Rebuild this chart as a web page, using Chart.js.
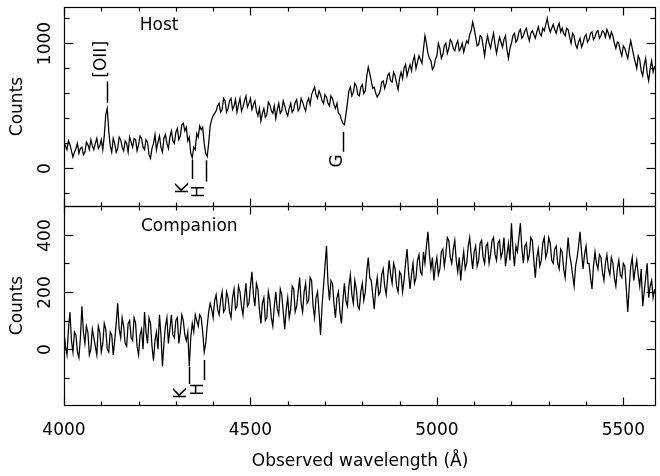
<!DOCTYPE html>
<html>
<head>
<meta charset="utf-8">
<script src="https://cdn.jsdelivr.net/npm/chart.js@4.4.0/dist/chart.umd.min.js"></script>
<style>
    html, body { margin:0; padding:0; background:#fff; }
    #divEspectros { width:660px; height:476px; }
</style>
</head>
<body>
<div id="divEspectros"><canvas id="graficoEspectros" width="660" height="476"></canvas></div>
<script>

// longitud de onda observada (A)
const longitudes = [
    4000,4004,4008,4012,4016,4020,4024,4028,4032,4036,4040,4044,4048,4052,4056,4060,4064,4068,4072,4076,
    4080,4084,4088,4092,4096,4100,4104,4108,4112,4116,4120,4124,4128,4132,4136,4140,4144,4148,4152,4156,
    4160,4164,4168,4172,4176,4180,4184,4188,4192,4196,4200,4204,4208,4212,4216,4220,4224,4228,4232,4236,
    4240,4244,4248,4252,4256,4260,4264,4268,4272,4276,4280,4284,4288,4292,4296,4300,4304,4308,4312,4316,
    4320,4324,4328,4332,4336,4340,4344,4348,4352,4356,4360,4364,4368,4372,4376,4380,4384,4388,4392,4396,
    4400,4404,4408,4412,4416,4420,4424,4428,4432,4436,4440,4444,4448,4452,4456,4460,4464,4468,4472,4476,
    4480,4484,4488,4492,4496,4500,4504,4508,4512,4516,4520,4524,4528,4532,4536,4540,4544,4548,4552,4556,
    4560,4564,4568,4572,4576,4580,4584,4588,4592,4596,4600,4604,4608,4612,4616,4620,4624,4628,4632,4636,
    4640,4644,4648,4652,4656,4660,4664,4668,4672,4676,4680,4684,4688,4692,4696,4700,4704,4708,4712,4716,
    4720,4724,4728,4732,4736,4740,4744,4748,4752,4756,4760,4764,4768,4772,4776,4780,4784,4788,4792,4796,
    4800,4804,4808,4812,4816,4820,4824,4828,4832,4836,4840,4844,4848,4852,4856,4860,4864,4868,4872,4876,
    4880,4884,4888,4892,4896,4900,4904,4908,4912,4916,4920,4924,4928,4932,4936,4940,4944,4948,4952,4956,
    4960,4964,4968,4972,4976,4980,4984,4988,4992,4996,5000,5004,5008,5012,5016,5020,5024,5028,5032,5036,
    5040,5044,5048,5052,5056,5060,5064,5068,5072,5076,5080,5084,5088,5092,5096,5100,5104,5108,5112,5116,
    5120,5124,5128,5132,5136,5140,5144,5148,5152,5156,5160,5164,5168,5172,5176,5180,5184,5188,5192,5196,
    5200,5204,5208,5212,5216,5220,5224,5228,5232,5236,5240,5244,5248,5252,5256,5260,5264,5268,5272,5276,
    5280,5284,5288,5292,5296,5300,5304,5308,5312,5316,5320,5324,5328,5332,5336,5340,5344,5348,5352,5356,
    5360,5364,5368,5372,5376,5380,5384,5388,5392,5396,5400,5404,5408,5412,5416,5420,5424,5428,5432,5436,
    5440,5444,5448,5452,5456,5460,5464,5468,5472,5476,5480,5484,5488,5492,5496,5500,5504,5508,5512,5516,
    5520,5524,5528,5532,5536,5540,5544,5548,5552,5556,5560,5564,5568,5572,5576,5580,5584
];

const cuentasHost = [
    210,180,150,220,190,140,90,130,160,200,120,160,170,110,130,210,190,150,230,180,
    150,200,240,160,180,230,150,260,430,480,300,180,130,240,200,130,160,250,230,170,
    140,220,200,130,250,210,170,240,230,140,190,260,240,170,150,230,210,110,80,160,
    200,270,150,210,260,170,130,240,270,200,160,250,300,220,200,290,320,230,260,350,
    360,300,330,220,250,120,85,170,150,280,250,340,310,330,200,120,95,200,340,390,
    420,440,460,500,520,450,470,560,540,450,480,540,560,470,500,550,450,510,560,460,
    490,540,580,490,520,560,470,510,540,460,420,480,380,440,480,410,430,530,510,460,
    440,500,400,470,520,440,460,540,500,450,420,480,520,450,470,530,550,460,480,560,
    530,490,460,530,560,510,590,620,650,590,560,620,590,540,520,590,570,520,500,580,
    560,510,480,520,440,430,390,360,350,430,520,620,650,580,610,680,660,590,580,650,
    670,600,620,740,810,760,700,640,650,600,570,590,620,690,700,640,680,740,760,700,
    690,770,740,680,630,720,770,720,800,830,740,790,830,780,860,900,800,850,900,870,
    840,950,1060,1000,920,880,860,790,810,870,900,1000,960,880,910,980,1000,920,960,1030,
    1010,960,940,990,1020,940,960,1000,930,980,1020,1000,1070,1100,1170,1120,1050,980,990,1060,
    1050,980,900,1000,1060,1000,960,1030,1080,990,920,990,1050,1010,970,1030,1060,950,880,960,
    1000,1060,1080,1010,1030,1090,1110,1040,1060,1100,1120,1060,1020,1080,1100,1070,1040,1090,1130,1080,
    1060,1120,1100,1150,1200,1130,1090,1120,1150,1110,1080,1130,1160,1090,1120,1080,1060,1120,1110,1050,
    1000,1080,1060,990,960,1010,1040,970,1000,1050,1070,1010,1030,1080,1090,1030,1050,1090,1100,1040,
    1060,1100,1090,1050,1110,1080,1040,1090,1060,1000,960,1010,1000,940,900,980,960,920,880,960,
    1020,960,900,850,800,900,870,780,740,830,880,760,700,800,860,770,820
];

const cuentasCompanion = [
    60,10,-20,70,130,30,-10,60,50,-10,-30,40,150,60,20,80,60,-20,0,70,
    40,10,-20,80,60,-10,20,90,70,0,-10,60,50,-20,30,90,160,70,40,110,
    80,20,10,90,100,40,30,110,90,10,-20,50,70,0,130,60,20,110,90,10,
    -40,30,60,0,120,50,-60,20,80,110,20,70,120,50,40,100,110,20,60,120,
    100,50,30,60,-60,40,90,60,120,100,80,120,110,60,-10,20,80,130,160,140,
    110,170,190,140,120,170,200,130,140,200,180,130,110,180,210,140,150,220,200,150,
    120,180,230,150,160,220,270,190,150,230,210,140,90,160,180,100,110,200,170,110,
    80,150,200,140,120,210,190,130,70,140,180,110,140,220,210,130,150,200,250,160,
    130,200,230,160,170,250,240,150,110,180,200,130,50,150,220,290,360,230,170,240,
    230,160,110,180,200,130,90,170,230,170,150,220,260,190,160,240,210,150,140,200,
    230,170,200,270,320,250,240,190,140,210,250,190,200,260,280,220,190,250,310,260,
    230,300,280,220,200,270,260,200,240,300,350,270,210,260,300,230,250,310,330,270,
    260,340,300,360,410,330,280,320,240,290,320,260,280,340,350,290,330,390,380,320,
    300,350,380,310,270,320,240,300,340,280,300,360,390,330,280,340,360,290,310,370,
    380,320,300,360,370,300,330,380,390,330,310,370,380,320,340,390,290,330,370,310,
    440,350,290,360,340,390,440,350,300,360,370,310,330,390,380,310,250,320,350,290,
    310,370,390,320,340,390,370,310,300,350,360,300,280,350,340,280,250,320,390,330,
    300,260,220,290,320,360,410,340,280,330,360,300,300,250,210,290,340,300,280,330,
    320,270,240,300,330,280,260,320,300,250,220,280,310,260,250,300,290,210,130,220,
    290,320,240,280,310,260,220,280,150,200,250,300,180,220,240,180,210
];

const xMayores = [4000, 4500, 5000, 5500];
const xMenores = [4100,4200,4300,4400,4600,4700,4800,4900,5100,5200,5300,5400];
const yHostMayores = [0, 1000];
const yHostMenores = [-200, 200, 400, 600, 800, 1200];
const yCompMayores = [0, 200, 400];
const yCompMenores = [-100, 100, 300];

const FUENTE = '17px "DejaVu Sans"';

// lineas de identificacion (en coordenadas de datos)
const paneles = [
    {
        eje: 'yHost', nombre: 'Host', nx: 4255, ny: 1140,
        mayores: yHostMayores, menores: yHostMenores,
        lineas: [ [4115, 525, 695], [4342, 70, -85], [4382, 65, -105], [4749, 293, 133] ],
        letras: [ ['[OII]', 4102, 872], ['K', 4321, -160], ['H', 4364, -186], ['G', 4733, 60] ]
    },
    {
        eje: 'yComp', nombre: 'Companion', nx: 4336, ny: 429,
        mayores: yCompMayores, menores: yCompMenores,
        lineas: [ [4335, -62, -122], [4375, -38, -108] ],
        letras: [ ['K', 4315, -155], ['H', 4361, -140] ]
    }
];

function textoRotado(ctx, txt, x, y){
    ctx.save();
    ctx.translate(x, y);
    ctx.rotate(-Math.PI / 2);
    ctx.textAlign = 'center';
    ctx.textBaseline = 'middle';
    ctx.fillText(txt, 0, 0);
    ctx.restore();
}

function linea(ctx, x1, y1, x2, y2){
    ctx.beginPath();
    ctx.moveTo(x1, y1);
    ctx.lineTo(x2, y2);
    ctx.stroke();
}

const marcoPlugin = {
    id: 'marco',
    afterDraw(chart){
        const ctx = chart.ctx;
        const sx = chart.scales.x;
        const L = Math.round(sx.left) + 0.5;
        const R = Math.round(sx.right) - 0.5;
        ctx.save();
        ctx.strokeStyle = '#000';
        ctx.fillStyle = '#000';
        ctx.lineWidth = 1.2;
        ctx.font = FUENTE;

        paneles.forEach(function(p){
            const sy = chart.scales[p.eje];
            const T = Math.round(sy.top) + 0.5;
            const B = Math.round(sy.bottom) + 0.5;
            ctx.strokeRect(L, T, R - L, B - T);

            xMayores.forEach(function(v){
                const px = Math.round(sx.getPixelForValue(v)) + 0.5;
                linea(ctx, px, T, px, T + 8);
                linea(ctx, px, B, px, B - 8);
            });
            xMenores.forEach(function(v){
                const px = Math.round(sx.getPixelForValue(v)) + 0.5;
                linea(ctx, px, T, px, T + 4);
                linea(ctx, px, B, px, B - 4);
            });
            p.mayores.forEach(function(v){
                const py = Math.round(sy.getPixelForValue(v)) + 0.5;
                linea(ctx, L, py, L + 9, py);
                linea(ctx, R, py, R - 9, py);
                textoRotado(ctx, String(v), 46, py);
            });
            p.menores.forEach(function(v){
                const py = Math.round(sy.getPixelForValue(v)) + 0.5;
                linea(ctx, L, py, L + 5, py);
                linea(ctx, R, py, R - 5, py);
            });

            // nombre del panel
            ctx.textAlign = 'center';
            ctx.textBaseline = 'middle';
            ctx.fillText(p.nombre, sx.getPixelForValue(p.nx), sy.getPixelForValue(p.ny));

            // lineas espectrales
            ctx.lineWidth = 1.5;
            p.lineas.forEach(function(l){
                const px = Math.round(sx.getPixelForValue(l[0])) + 0.5;
                linea(ctx, px, sy.getPixelForValue(l[1]), px, sy.getPixelForValue(l[2]));
            });
            ctx.lineWidth = 1.2;
            p.letras.forEach(function(t){
                textoRotado(ctx, t[0], sx.getPixelForValue(t[1]), sy.getPixelForValue(t[2]));
            });
        });
        ctx.restore();
    }
};

function cargarGrafico(){

    const puntosHost = longitudes.map(function(l, i){ return {x: l, y: cuentasHost[i]}; });
    const puntosComp = longitudes.map(function(l, i){ return {x: l, y: cuentasCompanion[i]}; });

    const fuente = { family: 'DejaVu Sans', size: 17 };
    const ejeY = function(min, max){
        return {
            type: 'linear',
            position: 'left',
            stack: 'paneles',
            stackWeight: 1,
            min: min,
            max: max,
            grid: { display: false, drawTicks: false },
            border: { display: false },
            ticks: { display: false },
            title: { display: true, text: 'Counts', color: '#000', font: fuente, padding: { top: 7, bottom: 0 } },
            afterFit: function(s){ s.width = 64; }
        };
    };

    new Chart(document.getElementById('graficoEspectros'), {
        type: 'line',
        plugins: [marcoPlugin],
        data: {
            datasets: [
                { data: puntosHost, yAxisID: 'yHost', borderColor: '#000', borderWidth: 1.25, pointRadius: 0, tension: 0, fill: false },
                { data: puntosComp, yAxisID: 'yComp', borderColor: '#000', borderWidth: 1.25, pointRadius: 0, tension: 0, fill: false }
            ]
        },
        options: {
            responsive: false,
            animation: false,
            events: [],
            layout: { padding: { top: 7, right: 1, left: 0, bottom: 0 } },
            plugins: {
                legend: { display: false },
                tooltip: { enabled: false }
            },
            scales: {
                x: {
                    type: 'linear',
                    min: 4000,
                    max: 5588,
                    afterBuildTicks: function(s){ s.ticks = xMayores.map(function(v){ return {value: v}; }); },
                    grid: { display: false, drawTicks: false },
                    border: { display: false },
                    ticks: { color: '#000', font: fuente, padding: 15, maxRotation: 0, callback: function(v){ return String(v); } },
                    title: { display: true, text: 'Observed wavelength (Å)', color: '#000', font: fuente, padding: { top: 0, bottom: 4 } },
                    afterFit: function(s){ s.height = 71; }
                },
                // el eje definido al final queda arriba en la pila
                yComp: ejeY(-195, 500),
                yHost: ejeY(-300, 1290)
            }
        }
    });
}

cargarGrafico();
</script>
</body>
</html>
